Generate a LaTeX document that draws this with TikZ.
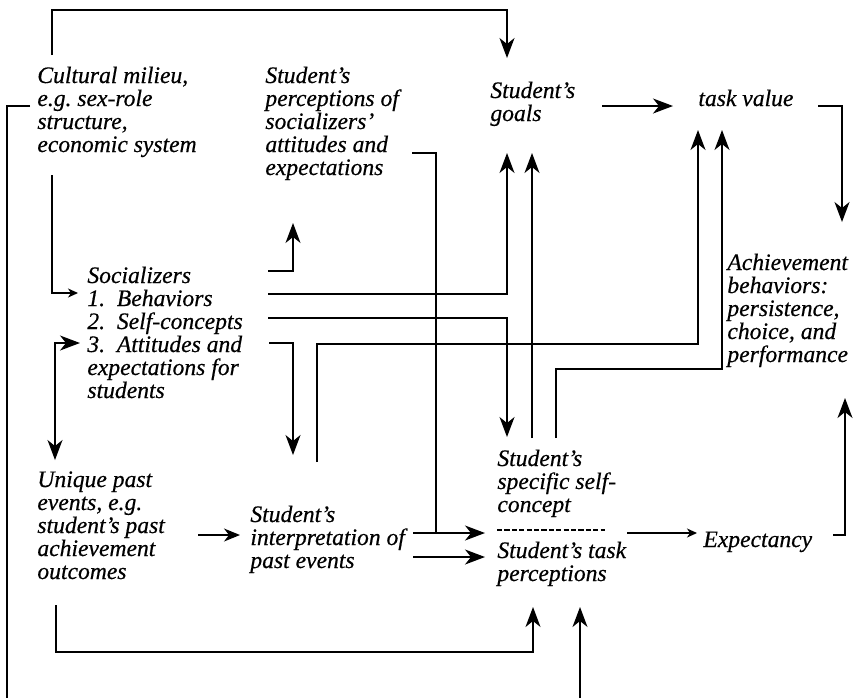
\documentclass[tikz,border=0pt]{standalone}
\usepackage{fontspec}
\setmainfont{Liberation Serif}[ItalicFeatures = {FakeBold = 0.5}]
\usetikzlibrary{arrows.meta}

\begin{document}
\begin{tikzpicture}[x = .5pt, y = -.5pt,
		box/.style = {anchor = base west, align = left, inner sep = 0pt, font = \itshape\fontsize{11.8}{11.5}\selectfont},
		plain/.style = {line width = .65pt},
		flow/.style = {plain, -{Stealth[length = 10pt, width = 7.5pt, inset = 3pt]}},
		twoway/.style = {plain, {Stealth[length = 10pt, width = 7.5pt, inset = 3pt]}-{Stealth[length = 10pt, width = 7.5pt, inset = 3pt]}},
		short/.style = {plain, -{Stealth[length = 8pt, width = 6.5pt, inset = 2.5pt]}},
		small/.style = {plain, -{Stealth[length = 5pt, width = 4.5pt, inset = 1.5pt]}}]
		\useasboundingbox (0,0) rectangle (861,698);
		\frenchspacing
		
		% base = last line of each text
		\node[box] (cult) at (37,152) {Cultural milieu,\\e.g. sex-role\\structure,\\economic system};
		\node[box] (percep) at (265,175) {Student's\\perceptions of\\socializers'\\attitudes and\\expectations};
		\node[box] (goals) at (490,121) {Student's\\goals};
		\node[box] (value) at (698,106) {task value};
		\node[box] (social) at (87,398) {Socializers\\1.\ \ Behaviors\\2.\ \ Self-concepts\\3.\ \ Attitudes and\\expectations for\\students};
		\node[box] (achieve) at (727,362) {Achievement\\behaviors:\\persistence,\\choice, and\\performance};
		\node[box] (unique) at (37,579) {Unique past\\events, e.g.\\student's past\\achievement\\outcomes};
		\node[box] (interp) at (250,568) {Student's\\interpretation of\\past events};
		\node[box] (self) at (497,512) {Student's\\specific self-\\concept};
		\node[box] (task) at (497,581) {Student's task\\perceptions};
		\node[box] (expect) at (703,547) {Expectancy};
		
		\coordinate (cult top) at (52,55);
		\coordinate (cult low) at (52,175);
		\coordinate (cult side) at (30,106);
		\coordinate (edge left) at (7,698);
		\coordinate (edge right) at (580,698);
		\coordinate (goals top) at (507,58);
		\coordinate (goals in) at (507,153);
		\coordinate (goals in2) at (532,153);
		\coordinate (goals out) at (602,106);
		\coordinate (value in) at (673,106);
		\coordinate (value in2) at (698,130);
		\coordinate (value in3) at (722,130);
		\coordinate (value out) at (818,106);
		\coordinate (social in) at (78,293);
		\coordinate (social in2) at (80,343);
		\coordinate (social out) at (268,271);
		\coordinate (social out2) at (268,294);
		\coordinate (social out3) at (268,318);
		\coordinate (social out4) at (269,343);
		\coordinate (percep in) at (293,223);
		\coordinate (percep out) at (412,153);
		\coordinate (join) at (436,533);
		\coordinate (interp in) at (293,455);
		\coordinate (interp in2) at (240,535);
		\coordinate (interp out) at (317,462);
		\coordinate (interp out2) at (413,533);
		\coordinate (interp out3) at (413,557);
		\coordinate (self in) at (507,437);
		\coordinate (self in2) at (485,533);
		\coordinate (self out) at (532,438);
		\coordinate (self out2) at (556,438);
		\coordinate (self out3) at (627,533);
		\coordinate (task in) at (485,557);
		\coordinate (task in2) at (533,607);
		\coordinate (task in3) at (580,607);
		\coordinate (unique in) at (55,460);
		\coordinate (unique out) at (198,535);
		\coordinate (unique out2) at (56,605);
		\coordinate (expect in) at (697,533);
		\coordinate (expect out) at (833,535);
		\coordinate (achieve in) at (842,222);
		\coordinate (achieve in2) at (845,398);
		
		\draw[flow] (cult top) -- ++(0,-45) -| (goals top);
		\draw[small] (cult low) |- (social in);
		\draw[plain] (cult side) -| (edge left);
		\draw[flow] (edge right) -- (task in3);
		
		\draw[flow] (social out) -| (percep in);
		\draw[flow] (social out2) -| (goals in);
		\draw[flow] (social out3) -| (self in);
		\draw[flow] (social out4) -| (interp in);
		\draw[twoway] (social in2) -| (unique in);
		
		\draw[flow] (interp out) -- ++(0,-118) -| (value in2);
		\draw[plain] (percep out) -| (join);
		\draw[flow] (interp out2) -- (self in2);
		\draw[flow] (interp out3) -- (task in);
		
		\draw[flow] (self out) -- (goals in2);
		\draw[flow] (self out2) -- ++(0,-69) -| (value in3);
		\draw[small] (self out3) -- (expect in);
		\draw[dash pattern = on 2.6pt off 1.1pt, line width = .8pt] (497,530) -- (605,530);
		
		\draw[flow] (goals out) -- (value in);
		\draw[flow] (value out) -| (achieve in);
		\draw[flow] (expect out) -| (achieve in2);
		
		\draw[short] (unique out) -- (interp in2);
		\draw[flow] (unique out2) -- ++(0,47) -| (task in2);
\end{tikzpicture}
\end{document}
